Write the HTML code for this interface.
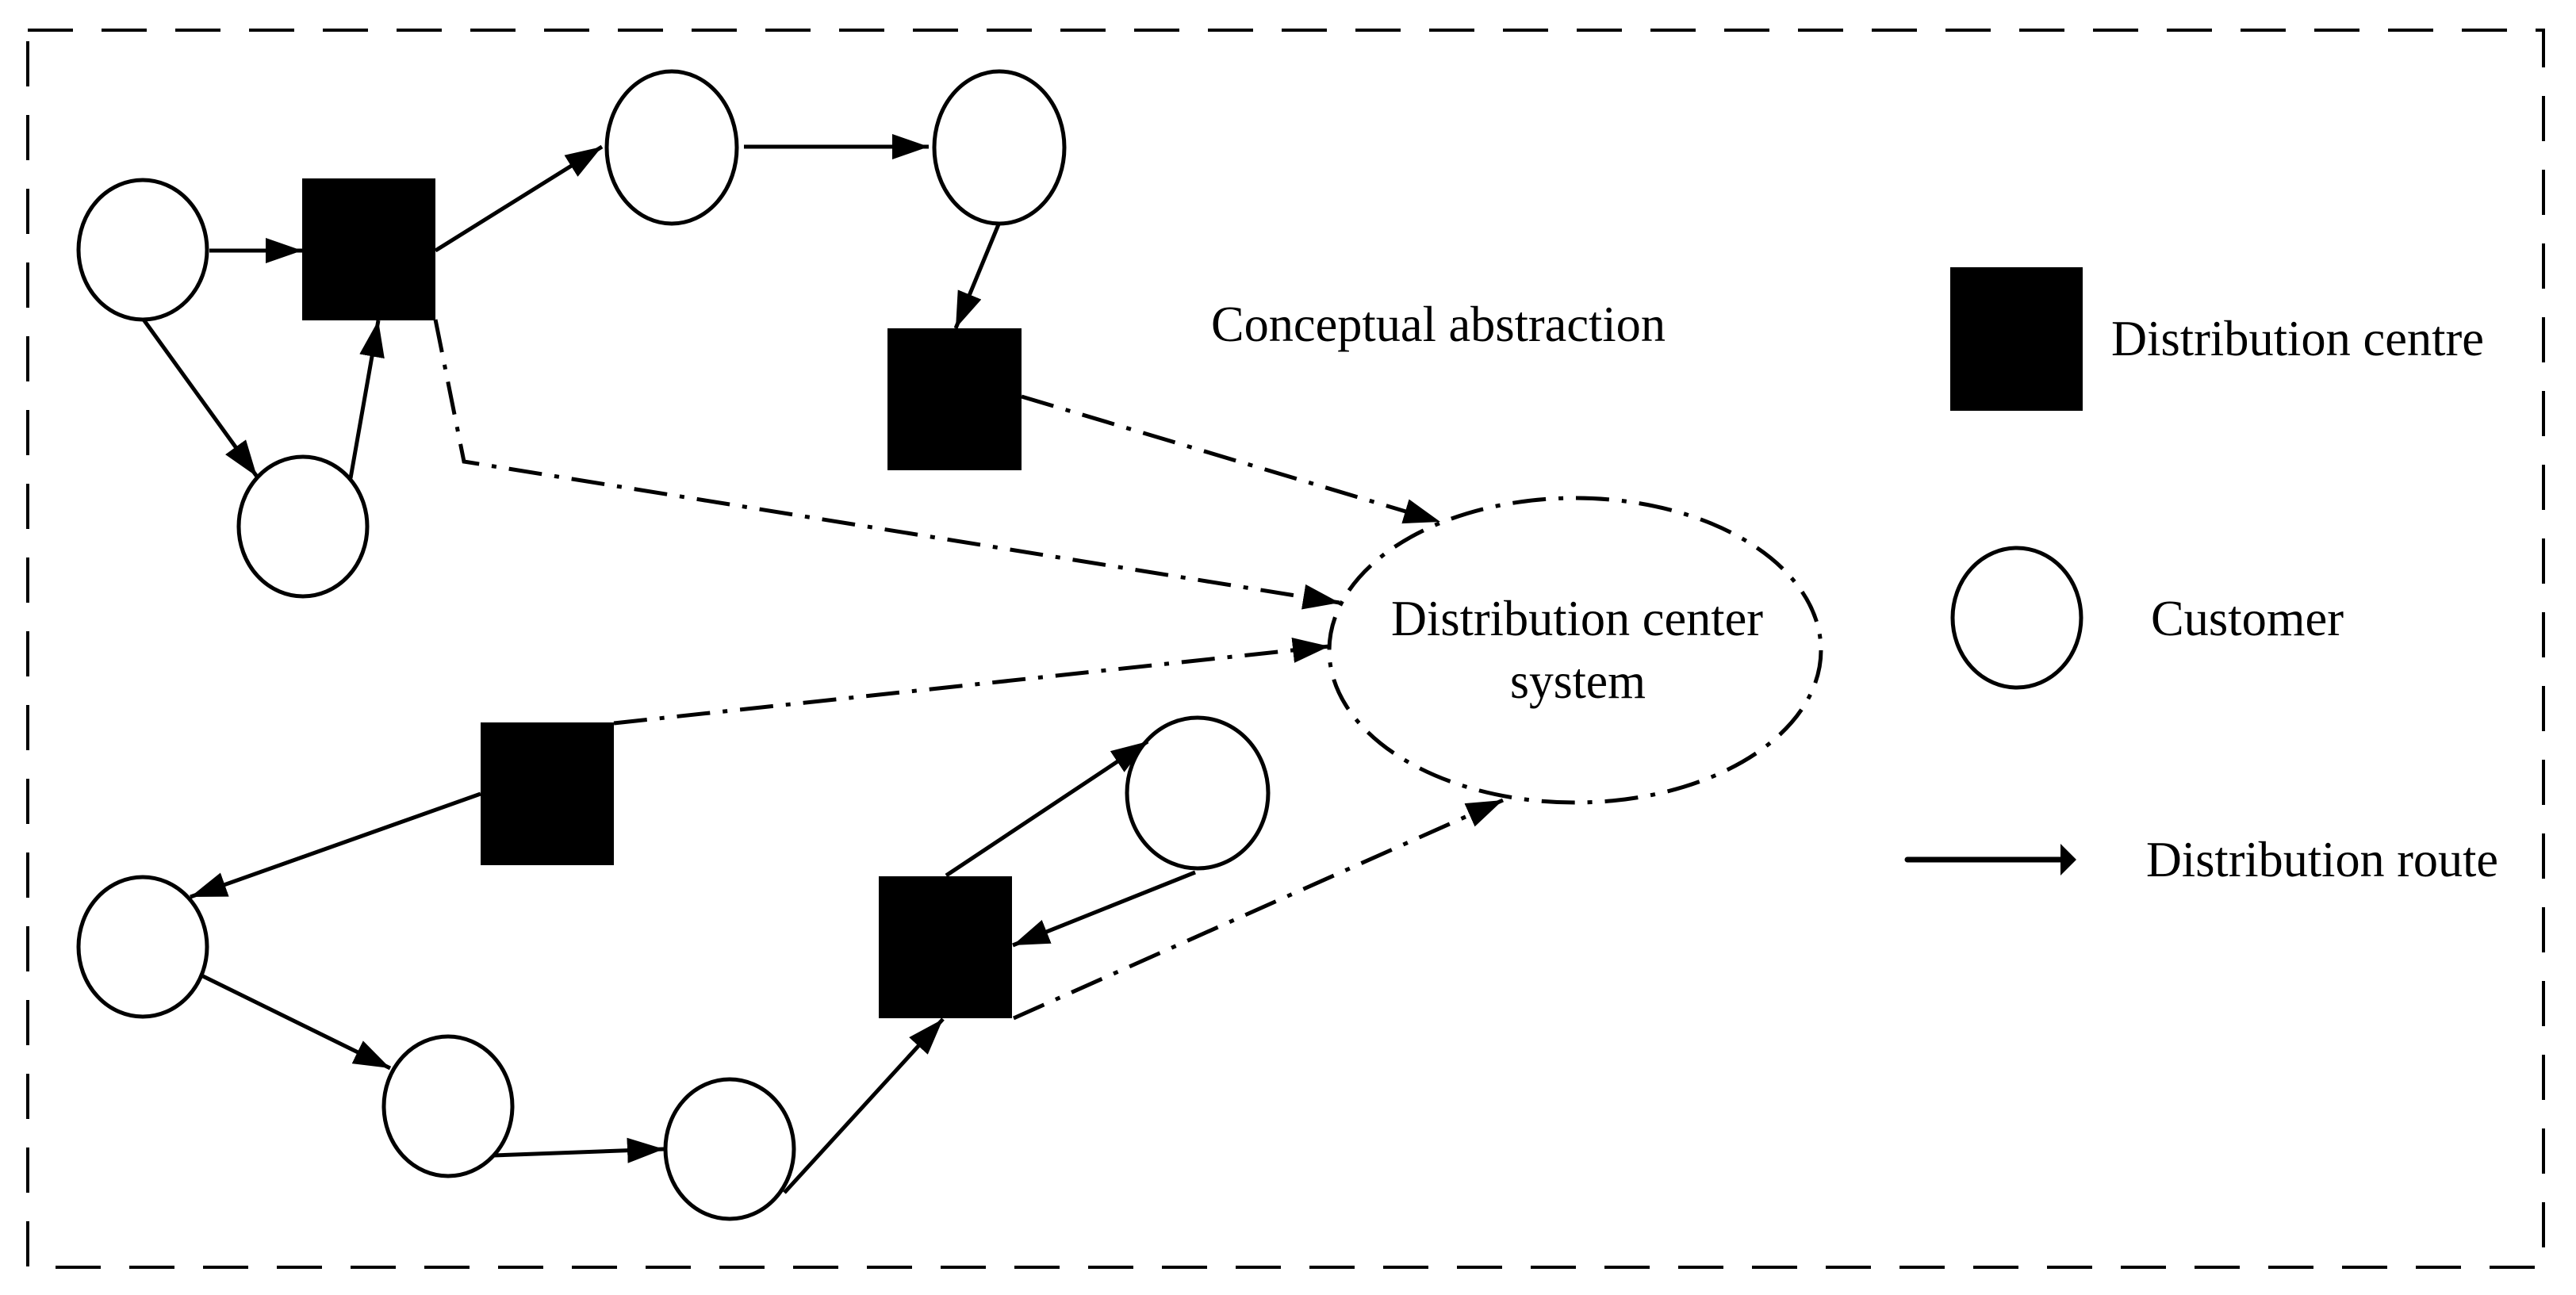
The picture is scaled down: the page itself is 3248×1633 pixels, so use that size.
<!DOCTYPE html>
<html><head><meta charset="utf-8"><style>
html,body{margin:0;padding:0;background:#fff;}
svg{display:block;}
text{font-family:"Liberation Serif",serif;fill:#000;}
</style></head><body>
<svg width="3248" height="1633" viewBox="0 0 3248 1633" xmlns="http://www.w3.org/2000/svg">
<defs>
<marker id="ah" markerUnits="userSpaceOnUse" markerWidth="50" markerHeight="36" refX="46" refY="16" orient="auto">
<path d="M0,0 L46,16 L0,32 z" fill="#000"/>
</marker>
</defs>
<rect width="3248" height="1633" fill="#fff"/>
<!-- border -->
<rect x="35" y="38" width="3172" height="1560" fill="none" stroke="#000" stroke-width="4" stroke-dasharray="57 36"/>

<g fill="#fff" stroke="#000" stroke-width="5">
<ellipse cx="180" cy="315" rx="81" ry="88"/>
<ellipse cx="847" cy="186" rx="82" ry="96"/>
<ellipse cx="1260" cy="186" rx="82" ry="96"/>
<ellipse cx="382" cy="664" rx="81" ry="88"/>
<ellipse cx="1510" cy="1000" rx="89" ry="95"/>
<ellipse cx="180" cy="1194" rx="81" ry="88"/>
<ellipse cx="565" cy="1395" rx="81" ry="88"/>
<ellipse cx="920" cy="1449" rx="81" ry="88"/>
<ellipse cx="2543" cy="779" rx="81" ry="88"/>
</g>

<g fill="#000">
<rect x="381" y="225" width="168" height="179"/>
<rect x="1119" y="414" width="169" height="179"/>
<rect x="606" y="911" width="168" height="180"/>
<rect x="1108" y="1105" width="168" height="179"/>
<rect x="2459" y="337" width="167" height="181"/>
</g>

<!-- solid routes -->
<g stroke="#000" stroke-width="5" fill="none" marker-end="url(#ah)">
<line x1="264" y1="316" x2="381" y2="316"/>
<line x1="549" y1="316" x2="759" y2="185"/>
<line x1="938" y1="185" x2="1171" y2="185"/>
<line x1="1259" y1="283" x2="1205" y2="414"/>
<line x1="181" y1="403" x2="324" y2="601"/>
<line x1="442" y1="603" x2="477" y2="404"/>
<line x1="606" y1="1001" x2="240" y2="1131"/>
<line x1="256" y1="1231" x2="492" y2="1347"/>
<line x1="622" y1="1457" x2="837" y2="1449"/>
<line x1="989" y1="1504" x2="1189" y2="1285"/>
<line x1="1193" y1="1104" x2="1447" y2="935"/>
<line x1="1507" y1="1100" x2="1277" y2="1192"/>
</g>

<!-- dash-dot connectors -->
<g stroke="#000" stroke-width="5" fill="none" stroke-dasharray="42 16 6 16" marker-end="url(#ah)">
<polyline points="549,403 585,582 1689,760"/>
<line x1="1288" y1="500" x2="1816" y2="658"/>
<line x1="774" y1="912" x2="1676" y2="815"/>
<line x1="1278" y1="1284" x2="1895" y2="1009"/>
</g>
<ellipse cx="1986" cy="820" rx="310" ry="192" fill="none" stroke="#000" stroke-width="5" stroke-dasharray="42 16 6 16"/>

<!-- legend arrow -->
<line x1="2405" y1="1084" x2="2600" y2="1084" stroke="#000" stroke-width="7" stroke-linecap="round"/>
<path d="M2598,1064 L2618,1084 L2598,1104 z" fill="#000"/>

<g font-size="64">
<text x="1527" y="430" textLength="573" lengthAdjust="spacingAndGlyphs">Conceptual abstraction</text>
<text x="2662" y="448" textLength="470" lengthAdjust="spacingAndGlyphs">Distribution centre</text>
<text x="1754" y="801" textLength="469" lengthAdjust="spacingAndGlyphs">Distribution center</text>
<text x="1904" y="880" textLength="171" lengthAdjust="spacingAndGlyphs">system</text>
<text x="2712" y="801" textLength="243" lengthAdjust="spacingAndGlyphs">Customer</text>
<text x="2706" y="1105" textLength="444" lengthAdjust="spacingAndGlyphs">Distribution route</text>
</g>
</svg>
</body></html>
